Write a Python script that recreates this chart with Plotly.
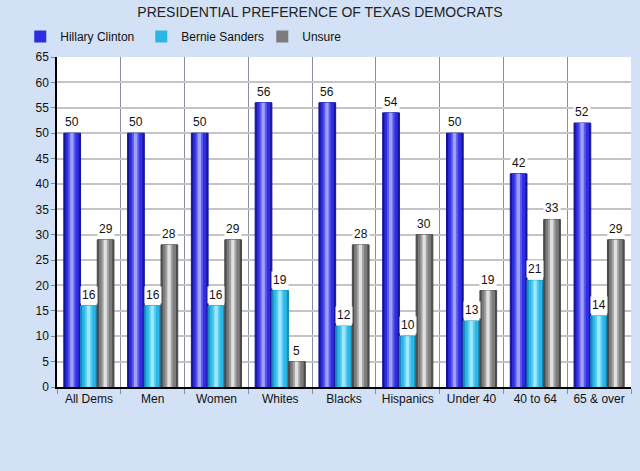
import plotly.graph_objects as go

categories = ["All Dems", "Men", "Women", "Whites", "Blacks", "Hispanics", "Under 40", "40 to 64", "65 & over"]
clinton = [50, 50, 50, 56, 56, 54, 50, 42, 52]
sanders = [16, 16, 16, 19, 12, 10, 13, 21, 14]
unsure = [29, 28, 29, 5, 28, 30, 19, 33, 29]
y_ticks = list(range(0, 70, 5))

series = [
    ("Hillary Clinton", clinton, ["#14149a", "#2e2ee0", "#5a5af0", "#a0a0ff"]),
    ("Bernie Sanders", sanders, ["#1a8ab8", "#2bb6e6", "#55cdf3", "#a0e8ff"]),
    ("Unsure", unsure, ["#4a4a4a", "#7c7c7c", "#a2a2a2", "#e0e0e0"]),
]

bw = 0.262
start = -0.393
x_idx = list(range(len(categories)))

fig = go.Figure()
# layer fractions: (left inset fraction, width fraction)
layers = [(0.0, 1.0), (0.1, 0.8), (0.26, 0.44), (0.38, 0.2)]
for k, (name, vals, cols) in enumerate(series):
    off = start + k * bw
    for li, (lf, wf) in enumerate(layers):
        fig.add_trace(go.Bar(
            x=x_idx, y=vals, name=name,
            offset=off + lf * bw, width=bw * wf,
            marker=dict(color=cols[li], line=dict(width=1 if li == 0 else 0, color=cols[0])),
            showlegend=(li == 1), legendgroup=name, hoverinfo="skip",
        ))
    for i, v in enumerate(vals):
        fig.add_annotation(
            x=i + off + bw / 2, y=v, text=str(v), showarrow=False,
            yanchor="bottom", yshift=2, bgcolor="white", borderpad=1,
            font=dict(size=12, color="#111", family="Liberation Sans, Arial"),
        )

fig.update_layout(
    width=640, height=471,
    barmode="overlay",
    paper_bgcolor="#d2e1f6",
    plot_bgcolor="white",
    margin=dict(l=57, r=9, t=57, b=84),
    font=dict(family="Liberation Sans, Arial", size=12, color="#111"),
    title=dict(text="PRESIDENTIAL PREFERENCE OF TEXAS DEMOCRATS", x=0.5, xanchor="center",
               y=0.975, yanchor="middle", font=dict(size=14, color="#222")),
    legend=dict(orientation="h", x=-0.064, y=1.062, xanchor="left", yanchor="middle",
                font=dict(size=12), bgcolor="rgba(0,0,0,0)", itemwidth=30, entrywidth=76,
                traceorder="normal"),
    xaxis=dict(range=[-0.5, len(categories) - 0.5], tickvals=x_idx, ticktext=categories,
               showgrid=False, ticks="", showline=True, linecolor="black", linewidth=1.5,
               zeroline=False, tickfont=dict(size=12), ticklabelstandoff=0,
               minor=dict(tickvals=[i + 0.5 for i in range(-1, len(categories))], showgrid=True,
                          gridcolor="#8c8ca0", gridwidth=1, ticks="outside", ticklen=5,
                          tickcolor="#8c8ca0")),
    yaxis=dict(range=[0, 65], tickvals=y_ticks, showgrid=True, gridcolor="#c4c4c8", gridwidth=1.5,
               showline=True, linecolor="black", linewidth=1.5, zeroline=False,
               ticks="outside", ticklen=4, tickcolor="#888", tickfont=dict(size=12)),
)

fig.write_html("out.html", config={"displayModeBar": False},
               post_script="document.body.style.margin='0';")
